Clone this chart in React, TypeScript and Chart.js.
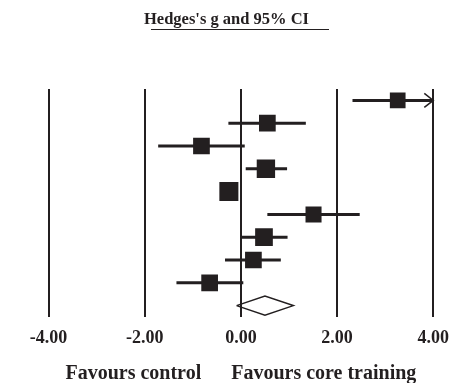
import React, { useEffect, useRef } from 'react';
import { Chart, registerables } from 'chart.js';

Chart.register(...registerables);

// ---- data ----
const studies = ['Study 1', 'Study 2', 'Study 3', 'Study 4', 'Study 5', 'Study 6', 'Study 7', 'Study 8', 'Study 9'];
const hedgesG = [3.26, 0.55, -0.82, 0.52, -0.25, 1.51, 0.48, 0.26, -0.65];
const ciLower = [2.32, -0.26, -1.72, 0.10, -0.40, 0.55, 0.01, -0.33, -1.34];
const ciUpper = [4.20, 1.35, 0.08, 0.96, -0.10, 2.47, 0.97, 0.83, 0.05];
const relativeWeight = [0.94, 1.0, 1.0, 1.1, 1.14, 0.96, 1.06, 1.0, 1.0];
const pooledG = [0.50];
const pooledLower = [-0.09];
const pooledUpper = [1.09];
const xTickValues = [-4, -2, 0, 2, 4];

const AXIS_MIN = -4;
const AXIS_MAX = 4;
const INK = '#231f20';
const FONT = 'Liberation Serif';

export default function App() {
  const canvasRef = useRef<HTMLCanvasElement | null>(null);

  useEffect(() => {
    const canvas = canvasRef.current;
    if (!canvas) return;

    const squares = hedgesG.map((g, i) => ({ x: g, y: i }));
    const ciData: { x: number; y: number | null }[] = [];
    studies.forEach((_, i) => {
      ciData.push({ x: Math.max(ciLower[i], AXIS_MIN), y: i });
      ciData.push({ x: Math.min(ciUpper[i], AXIS_MAX), y: i });
      ciData.push({ x: 0, y: null });
    });
    const pooledRow = studies.length;
    const halfH = 0.42;
    const diamond = [
      { x: pooledLower[0], y: pooledRow },
      { x: pooledG[0], y: pooledRow - halfH },
      { x: pooledUpper[0], y: pooledRow },
      { x: pooledG[0], y: pooledRow + halfH },
      { x: pooledLower[0], y: pooledRow },
    ];

    const arrowPlugin = {
      id: 'ciArrows',
      afterDatasetsDraw(chart: any) {
        const { ctx } = chart;
        const xs = chart.scales.x;
        const ys = chart.scales.y;
        ctx.save();
        ctx.strokeStyle = INK;
        ctx.lineWidth = 1.5;
        studies.forEach((_, i) => {
          const py = ys.getPixelForValue(i);
          if (ciUpper[i] > AXIS_MAX) {
            const px = xs.getPixelForValue(AXIS_MAX);
            ctx.beginPath();
            ctx.moveTo(px - 9, py - 7);
            ctx.lineTo(px, py);
            ctx.lineTo(px - 9, py + 7);
            ctx.stroke();
          }
          if (ciLower[i] < AXIS_MIN) {
            const px = xs.getPixelForValue(AXIS_MIN);
            ctx.beginPath();
            ctx.moveTo(px + 9, py - 7);
            ctx.lineTo(px, py);
            ctx.lineTo(px + 9, py + 7);
            ctx.stroke();
          }
        });
        ctx.restore();
      },
    };

    const underlinePlugin = {
      id: 'titleUnderline',
      afterDraw(chart: any) {
        const { ctx } = chart;
        const t = chart.options.plugins.title;
        ctx.save();
        ctx.font = `bold ${t.font.size}px ${FONT}`;
        const w = ctx.measureText(t.text).width;
        const cx = chart.width / 2;
        const y = 29.5;
        ctx.strokeStyle = INK;
        ctx.lineWidth = 1;
        ctx.beginPath();
        ctx.moveTo(cx - w / 2 + 7, y);
        ctx.lineTo(cx + w / 2 + 20, y);
        ctx.stroke();
        ctx.restore();
      },
    };

    const chart = new Chart(canvas, {
      type: 'scatter',
      data: {
        datasets: [
          {
            label: "Hedges's g",
            data: squares,
            pointStyle: 'rect',
            pointRadius: relativeWeight.map((w) => (w * 16.7) / Math.SQRT2),
            pointHoverRadius: relativeWeight.map((w) => (w * 16.7) / Math.SQRT2),
            backgroundColor: INK,
            borderWidth: 0,
            showLine: false,
          },
          {
            label: '95% CI',
            data: ciData,
            showLine: true,
            spanGaps: false,
            borderColor: INK,
            borderWidth: 3,
            pointRadius: 0,
            pointHoverRadius: 0,
            tension: 0,
          } as any,
          {
            label: 'Pooled',
            data: diamond,
            showLine: true,
            borderColor: INK,
            borderWidth: 1.5,
            backgroundColor: '#ffffff',
            fill: false,
            pointRadius: 0,
            pointHoverRadius: 0,
            tension: 0,
          } as any,
        ],
      },
      options: {
        animation: false,
        responsive: false,
        devicePixelRatio: 1,
        events: [],
        layout: { padding: 0 },
        plugins: {
          legend: { display: false },
          tooltip: { enabled: false },
          title: {
            display: true,
            text: "Hedges's g and 95% CI",
            color: INK,
            font: { family: FONT, size: 16.5, weight: 'bold', lineHeight: 1 },
            padding: { top: 11.75, bottom: 60.75 },
          },
        },
        scales: {
          x: {
            type: 'linear',
            min: AXIS_MIN,
            max: AXIS_MAX,
            afterBuildTicks: (scale: any) => {
              scale.ticks = xTickValues.map((v) => ({ value: v }));
            },
            afterFit: (scale: any) => {
              scale.paddingLeft = 48.5;
              scale.paddingRight = 19.7;
            },
            ticks: {
              callback: (v: any) => Number(v).toFixed(2),
              color: INK,
              font: { family: FONT, size: 18, weight: 'bold' },
              padding: 10.6,
              maxRotation: 0,
              autoSkip: false,
            },
            grid: { color: INK, lineWidth: 2, drawTicks: false },
            border: { display: false },
            title: {
              display: true,
              text: 'Favours control      Favours core training',
              color: INK,
              font: { family: FONT, size: 20, weight: 'bold', lineHeight: 1 },
              padding: { top: 4.2, bottom: -1 },
            },
          },
          y: {
            type: 'linear',
            display: false,
            min: -0.5,
            max: 9.5,
            reverse: true,
          },
        },
      } as any,
      plugins: [arrowPlugin, underlinePlugin],
    });

    return () => chart.destroy();
  }, []);

  return (
    <canvas
      ref={canvasRef}
      width={453}
      height={383}
      style={{ position: 'absolute', left: 0, top: 0 }}
    />
  );
}
